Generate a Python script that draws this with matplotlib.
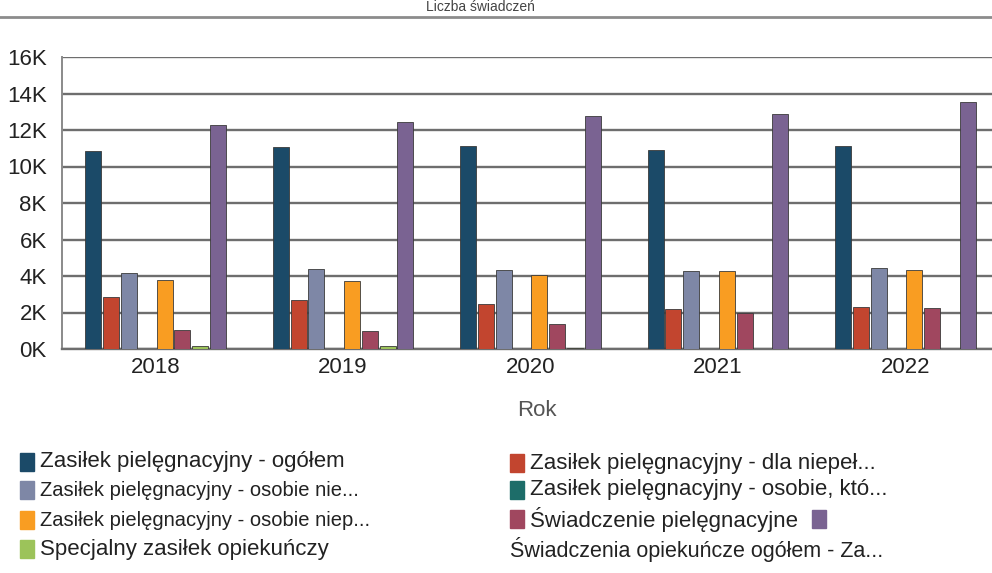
import matplotlib
matplotlib.use("Agg")
import numpy as np
import matplotlib.pyplot as plt
from matplotlib.patches import Rectangle
from matplotlib.ticker import FuncFormatter

plt.rcParams["font.family"] = ["Liberation Sans", "DejaVu Sans"]

years = ["2018", "2019", "2020", "2021", "2022"]

# values in thousands, series order as drawn inside each year group
ogolem = [10.85, 11.05, 11.1, 10.9, 11.15]
dla_niepel = [2.85, 2.7, 2.45, 2.2, 2.3]
osobie_nie = [4.15, 4.4, 4.35, 4.25, 4.45]
osobie_kto = [0.0, 0.0, 0.0, 0.0, 0.0]
osobie_niep = [3.8, 3.75, 4.05, 4.25, 4.35]
swiadczenie_piel = [1.05, 1.0, 1.35, 1.95, 2.25]
specjalny = [0.17, 0.15, 0.05, 0.0, 0.0]
opiekuncze_ogolem = [12.3, 12.45, 12.75, 12.85, 13.55]

series = [ogolem, dla_niepel, osobie_nie, osobie_kto,
          osobie_niep, swiadczenie_piel, specjalny, opiekuncze_ogolem]
colors = ["#1b4a68", "#c2452f", "#7e87a6", "#1d6d69",
          "#f99d22", "#a0475f", "#9cc35a", "#7a6392"]

fig = plt.figure(figsize=(9.92, 5.73), dpi=100)
W, H = 992, 573

def fx(px):
    return px / W

def fy(py):
    return 1 - py / H

# axes: left edge at 62px, runs past the right edge of the image
ax = fig.add_axes([fx(62), fy(349), fx(999 - 62), (349 - 57) / H])

x = np.arange(len(years))
step = 0.095
width = 0.086
for i, (vals, col) in enumerate(zip(series, colors)):
    ax.bar(x + (i - 3.5) * step, vals, width=width, color=col,
           edgecolor="#3a3a3a", linewidth=0.6, zorder=3)

ax.set_xlim(-0.5, len(years) - 0.5)
ax.set_ylim(0, 16)
ax.set_yticks(np.arange(0, 17, 2))
ax.yaxis.set_major_formatter(FuncFormatter(lambda v, p: f"{int(v)}K"))
ax.grid(axis="y", color="#6e6e6e", linewidth=1.7, zorder=0)
ax.set_xticks(x)
ax.set_xticklabels(years)
ax.tick_params(axis="both", length=0, labelsize=16, colors="#222222")
ax.tick_params(axis="y", pad=11)
ax.tick_params(axis="x", pad=6)
for s in ["top", "right"]:
    ax.spines[s].set_visible(False)
ax.spines["left"].set_color("#8a8a8a")
ax.spines["left"].set_linewidth(1.4)
ax.spines["bottom"].set_color("#6e6e6e")
ax.spines["bottom"].set_linewidth(1.7)

fig.text(fx(537), fy(410), "Rok", ha="center", va="center",
         fontsize=16, color="#555555")

# title sits just above the rule at the top
fig.text(fx(480), fy(14), "Liczba świadczeń", ha="center", va="bottom",
         fontsize=10, color="#444444")
fig.add_artist(plt.Line2D([0, 1], [fy(17), fy(17)], color="#8c8c8c",
                          linewidth=2))

# legend, drawn by hand to keep the odd layout
legend_rows = [
    (20, 462, colors[0], "Zasiłek pielęgnacyjny - ogółem", 16),
    (20, 490, colors[2], "Zasiłek pielęgnacyjny - osobie nie...", 14.5),
    (20, 520, colors[4], "Zasiłek pielęgnacyjny - osobie niep...", 14.5),
    (20, 549, colors[6], "Specjalny zasiłek opiekuńczy", 16),
    (510, 463, colors[1], "Zasiłek pielęgnacyjny - dla niepeł...", 16),
    (510, 490, colors[3], "Zasiłek pielęgnacyjny - osobie, któ...", 16),
    (510, 519, colors[5], "Świadczenie pielęgnacyjne", 16),
]
for px, py, col, label, fs in legend_rows:
    fig.add_artist(Rectangle((fx(px), fy(py + 9)), 14 / W, 18 / H,
                             transform=fig.transFigure, color=col))
    fig.text(fx(px + 20), fy(py), label, ha="left", va="center",
             fontsize=fs, color="#222222")

fig.add_artist(Rectangle((fx(812), fy(528)), 14 / W, 18 / H,
                         transform=fig.transFigure, color=colors[7]))
fig.text(fx(510), fy(549), "Świadczenia opiekuńcze ogółem - Za...",
         ha="left", va="center", fontsize=15.5, color="#222222")

fig.savefig("out.png", dpi=100)
